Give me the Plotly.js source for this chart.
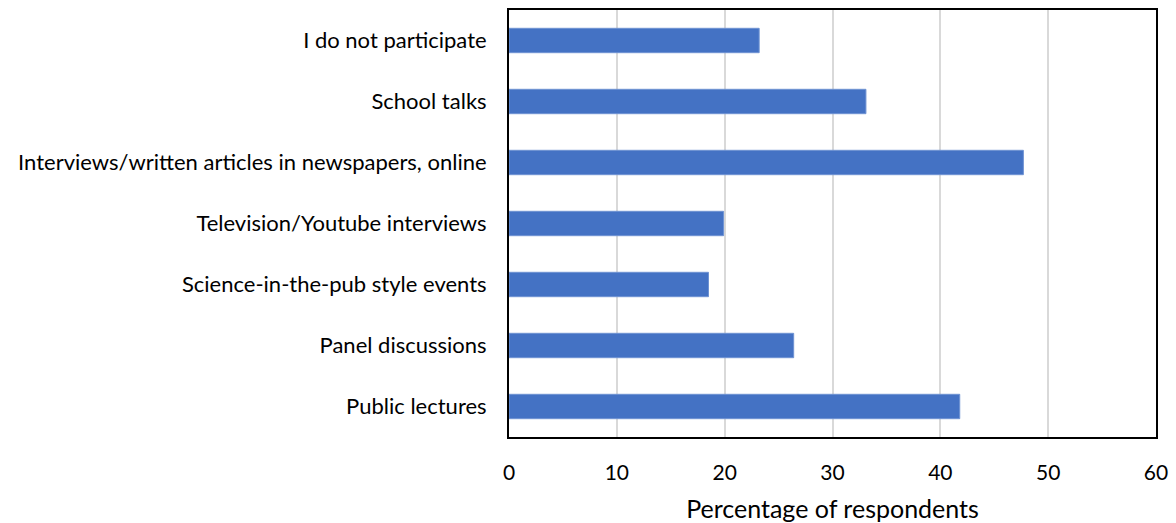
<!DOCTYPE html>
<html><head><meta charset="utf-8">
<script src="https://cdn.plot.ly/plotly-3.0.1.min.js"></script>
<style>body{margin:0;background:#fff}#chart{width:1176px;height:523px}</style>
</head><body><div id="chart"></div>
<script>
const categories = [
  "Public lectures",
  "Panel discussions",
  "Science-in-the-pub style events",
  "Television/Youtube interviews",
  "Interviews/written articles in newspapers, online",
  "School talks",
  "I do not participate"
];
const values = [41.8, 26.4, 18.5, 19.9, 47.7, 33.1, 23.2];
const xTicks = [0, 10, 20, 30, 40, 50, 60];

const font = "Lato, 'Open Sans', sans-serif";
Plotly.newPlot("chart", [{
  type: "bar", orientation: "h",
  x: values, y: categories,
  marker: {color: "#4472C4", line: {color: "#6f93d3", width: 1}},
  hoverinfo: "x+y"
}], {
  width: 1176, height: 523,
  margin: {l: 509, r: 20, t: 10, b: 86},
  paper_bgcolor: "#fff", plot_bgcolor: "#fff",
  bargap: 0.6,
  font: {family: font, size: 22, color: "#000"},
  xaxis: {
    range: [0, 60], tickvals: xTicks, ticktext: xTicks.map(String),
    showgrid: true, gridcolor: "#d9d9d9", gridwidth: 2,
    zeroline: false, showline: true, linecolor: "#000", linewidth: 2, mirror: true,
    ticks: "", ticklabelstandoff: 16,
    tickfont: {family: font, size: 21},
    title: {text: "Percentage of respondents", font: {family: font, size: 25}, standoff: 18}
  },
  yaxis: {
    categoryorder: "array", categoryarray: categories,
    showgrid: false, zeroline: false,
    showline: true, linecolor: "#000", linewidth: 2, mirror: true,
    ticks: "", ticklabelstandoff: 16,
    tickfont: {family: font, size: 22}
  },
  showlegend: false
}, {displayModeBar: false});
</script></body></html>
